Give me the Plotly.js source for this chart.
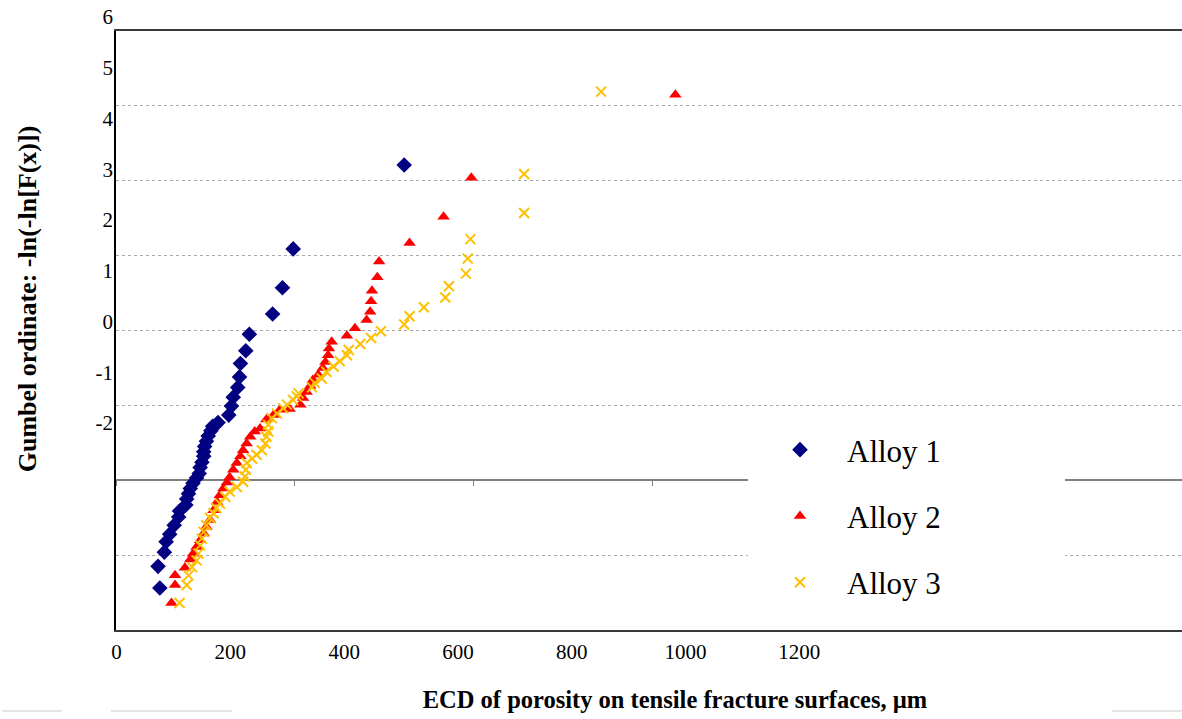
<!DOCTYPE html>
<html>
<head>
<meta charset="utf-8">
<script src="https://cdn.plot.ly/plotly-3.0.1.min.js"></script>
<style>html,body{margin:0;padding:0;background:#fff;}#chart{width:1182px;height:719px;}</style>
</head>
<body>
<div id="chart"></div>
<script>
// ---- data ----
const seriesNames = ["Alloy 1", "Alloy 2", "Alloy 3"];

const alloy1X = [49, 47, 54, 56, 60, 65, 70, 71, 78, 79, 81, 83, 86, 90, 93, 94, 96, 98, 98, 99,
  101, 103, 106, 108, 114, 126, 129, 131, 136, 138, 139, 145, 149, 175, 186, 198, 322];
const alloy1Y = [-1.44, -1.15, -0.96, -0.82, -0.72, -0.60, -0.49, -0.41, -0.33, -0.25, -0.18, -0.11, -0.04, 0.03, 0.09, 0.17, 0.24, 0.32, 0.38, 0.45,
  0.52, 0.59, 0.66, 0.72, 0.77, 0.87, 0.99, 1.11, 1.24, 1.38, 1.56, 1.73, 1.95, 2.22, 2.57, 3.09, 4.21];

const alloy2X = [62, 66, 66, 77, 83, 86, 90, 94, 98, 101, 105, 109, 113, 116, 120, 124, 127, 131, 135, 139,
  142, 146, 150, 155, 161, 168, 176, 183, 194, 206, 209, 213, 217, 220, 226, 231, 234, 237, 238, 241,
  258, 267, 280, 284, 285, 286, 292, 294, 328, 366, 397, 625];
const alloy2Y = [-1.64, -1.40, -1.27, -1.17, -1.06, -0.98, -0.89, -0.80, -0.71, -0.62, -0.53, -0.40, -0.29, -0.20, -0.11, -0.03, 0.04, 0.14, 0.23, 0.32,
  0.40, 0.49, 0.58, 0.65, 0.69, 0.81, 0.87, 0.94, 0.95, 1.01, 1.10, 1.18, 1.26, 1.34, 1.41, 1.50, 1.58, 1.67, 1.76, 1.85,
  1.93, 2.03, 2.14, 2.25, 2.39, 2.53, 2.71, 2.92, 3.17, 3.52, 4.04, 5.15];

const alloy3X = [71, 79, 81, 85, 90, 92, 94, 96, 98, 101, 105, 109, 112, 116, 122, 127, 135, 142, 144, 145,
  146, 152, 157, 163, 167, 168, 170, 170, 174, 180, 187, 191, 198, 202, 204, 219, 222, 230, 235, 243,
  250, 258, 260, 273, 285, 296, 322, 328, 344, 368, 372, 391, 393, 396, 456, 456, 542];
const alloy3Y = [-1.64, -1.40, -1.27, -1.16, -1.07, -0.98, -0.87, -0.78, -0.69, -0.60, -0.50, -0.44, -0.37, -0.31, -0.22, -0.15, -0.09, -0.02, 0.05, 0.14,
  0.23, 0.29, 0.34, 0.40, 0.49, 0.58, 0.65, 0.74, 0.83, 0.89, 0.96, 1.01, 1.07, 1.12, 1.16, 1.24, 1.30, 1.36, 1.45, 1.52,
  1.59, 1.67, 1.74, 1.82, 1.90, 1.99, 2.08, 2.19, 2.31, 2.44, 2.59, 2.76, 2.96, 3.22, 3.57, 4.09, 5.19];

const xTickVals = [0, 200, 400, 600, 800, 1000, 1200];
const xTickText = ["0", "200", "400", "600", "800", "1000", "1200"];
const yTickVals = [6, 5, 4, 3, 2, 1, 0, -1, -2];
const yTickText = ["6", "5", "4", "3", "2", "1", "0", "-1", "-2"];

const xTitle = "ECD of porosity on tensile fracture surfaces, µm";
const yTitle = "Gumbel ordinate: -ln(-ln[F(x)])";

// ---- layout helpers (pixel -> paper) ----
const W = 1182, H = 719;
const px = v => v / W;
const py = v => 1 - v / H;
const serif = "Liberation Serif, Times New Roman, serif";

const traces = [
  {x: alloy1X, y: alloy1Y, name: seriesNames[0], legendgroup: "a1", type: "scatter", mode: "markers",
   marker: {symbol: "diamond", size: 12, color: "#000080"}},
  {x: alloy2X, y: alloy2Y, name: seriesNames[1], legendgroup: "a2", type: "scatter", mode: "markers",
   marker: {symbol: "triangle-up", size: 11, color: "#FF0000"}},
  {x: alloy3X, y: alloy3Y, name: seriesNames[2], legendgroup: "a3", type: "scatter", mode: "markers",
   marker: {symbol: "x-thin", size: 10, color: "#FFC000", line: {color: "#FFC000", width: 2}}},
  // empty carriers so that the label / tick / title axes are drawn
  {x: [], y: [], xaxis: "x3", yaxis: "y", type: "scatter", mode: "markers", showlegend: false, hoverinfo: "skip"},
  {x: [], y: [], xaxis: "x2", yaxis: "y", type: "scatter", mode: "markers", showlegend: false, hoverinfo: "skip"},
  {x: [], y: [], xaxis: "x4", yaxis: "y2", type: "scatter", mode: "markers", showlegend: false, hoverinfo: "skip"}
];

const layout = {
  width: W, height: H,
  margin: {l: 0, r: 0, t: 0, b: 0, pad: 0},
  paper_bgcolor: "#ffffff", plot_bgcolor: "rgba(0,0,0,0)",
  font: {family: serif, color: "#000"},
  showlegend: true,
  xaxis: {
    domain: [px(116), 1], range: [0, 1191.1], showgrid: false, zeroline: false,
    showline: true, linecolor: "#3a3a3a", linewidth: 2, mirror: true,
    ticks: "", showticklabels: false, fixedrange: true
  },
  yaxis: {
    domain: [py(630), py(31)], range: [-2, 6], dtick: 1, tick0: 0,
    showgrid: true, gridcolor: "#a8a8a8", gridwidth: 1, griddash: "dot",
    zeroline: true, zerolinecolor: "#808080", zerolinewidth: 2,
    showline: true, linecolor: "#000", linewidth: 2,
    ticks: "", showticklabels: false, fixedrange: true
  },
  // tick marks along the y = 0 line
  xaxis3: {
    overlaying: "x", anchor: "free", position: py(480.25), range: [0, 1191.1],
    tickvals: xTickVals, ticks: "outside", ticklen: 5, tickwidth: 1, tickcolor: "#808080",
    showticklabels: false, showgrid: false, zeroline: false, showline: false, fixedrange: true
  },
  // x tick labels as printed in the reference
  xaxis2: {
    overlaying: "x", anchor: "free", position: py(637), range: [-1, 1872.7],
    tickvals: xTickVals, ticktext: xTickText, ticks: "",
    tickfont: {family: serif, size: 21, color: "#000"},
    showgrid: false, zeroline: false, showline: false, fixedrange: true
  },
  // y tick labels as printed in the reference, with the y title
  yaxis2: {
    domain: [py(588), py(10)], range: [-5.251, 6.138], anchor: "free", position: px(113), side: "left",
    tickvals: yTickVals, ticktext: yTickText, ticks: "",
    tickfont: {family: serif, size: 21, color: "#000"},
    showgrid: false, zeroline: false, showline: false, fixedrange: true,
    title: {text: yTitle, font: {family: serif, size: 26, color: "#000", weight: "bold"}, standoff: 50}
  },
  // carrier of the x title
  xaxis4: {
    domain: [px(168), 1], range: [0, 1], anchor: "y2", side: "bottom",
    showticklabels: false, ticks: "", showgrid: false, zeroline: false, showline: false, fixedrange: true,
    title: {text: xTitle, font: {family: serif, size: 24.5, color: "#000", weight: "bold"}, standoff: 102}
  },
  legend: {
    x: px(753), y: py(423), xanchor: "left", yanchor: "top",
    bgcolor: "rgba(0,0,0,0)", borderwidth: 0,
    font: {family: serif, size: 31, color: "#000"},
    itemwidth: 84, tracegroupgap: 23, traceorder: "grouped"
  },
  shapes: [
    {type: "rect", xref: "paper", yref: "paper", x0: px(748), x1: px(1065), y0: py(620), y1: py(420),
     fillcolor: "#ffffff", line: {width: 0}, layer: "above"},
    {type: "line", xref: "paper", yref: "paper", x0: px(2), x1: px(62), y0: py(711), y1: py(711),
     line: {color: "#c8c8c8", width: 1}},
    {type: "line", xref: "paper", yref: "paper", x0: px(111), x1: px(232), y0: py(711), y1: py(711),
     line: {color: "#c8c8c8", width: 1}},
    {type: "line", xref: "paper", yref: "paper", x0: px(1112), x1: px(1182), y0: py(711), y1: py(711),
     line: {color: "#c8c8c8", width: 1}}
  ]
};

Plotly.newPlot("chart", traces, layout, {displayModeBar: false, staticPlot: true});
</script>
</body>
</html>
